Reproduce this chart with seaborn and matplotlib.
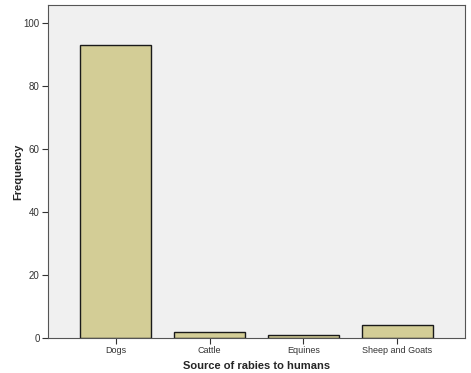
import matplotlib
matplotlib.use("Agg")
import matplotlib.pyplot as plt
import seaborn as sns
import pandas as pd

categories = ["Dogs", "Cattle", "Equines", "Sheep and Goats"]
frequency = [93, 2, 1, 4]
yticks = [0, 20, 40, 60, 80, 100]

df = pd.DataFrame({"source": categories, "freq": frequency})

sns.set_theme(style="white")
plt.rcParams['font.family'] = ['Liberation Sans', 'DejaVu Sans']

fig = plt.figure(figsize=(4.71, 3.73), dpi=100)
ax = fig.add_axes([48/471, 35/373, 417/471, 333/373])
ax.set_facecolor("#f0f0f0")
sns.barplot(data=df, x="source", y="freq", ax=ax, color="#d3cd96",
            width=0.755, edgecolor="#1a1a1a", linewidth=1.0, saturation=1)
ax.set_xlim(-0.72, 3.72)
ax.set_ylim(0, 105.7)
ax.set_yticks(yticks)
ax.tick_params(axis="both", which="both", direction="out", length=4, width=0.8,
               colors="#333333", labelsize=6.5, pad=2, left=True, bottom=True)
ax.tick_params(axis="y", labelsize=7)
ax.set_xlabel("Source of rabies to humans", fontsize=8, fontweight="bold", labelpad=4)
ax.set_ylabel("Frequency", fontsize=8, fontweight="bold", labelpad=0)
for s in ax.spines.values():
    s.set_color("#555555")
    s.set_linewidth(0.8)
fig.savefig("out.png", dpi=100, facecolor="white")
